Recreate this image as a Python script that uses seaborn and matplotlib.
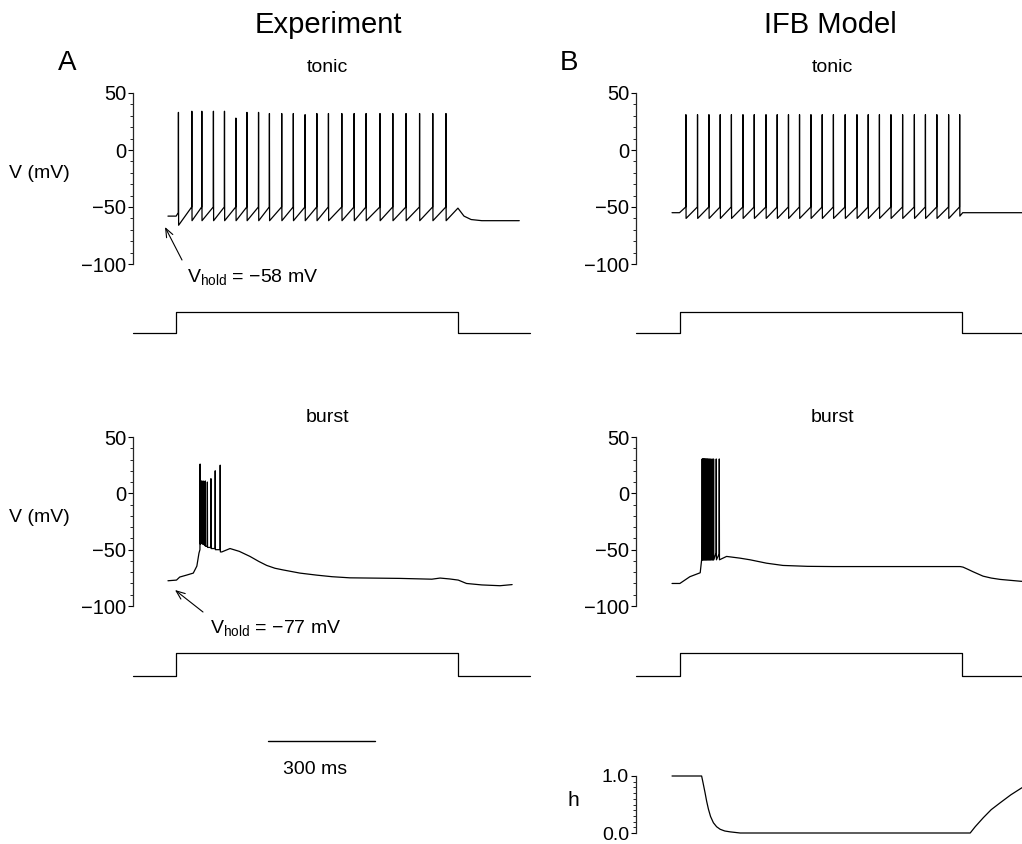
import numpy as np
import pandas as pd
import matplotlib
matplotlib.use("Agg")
import matplotlib.pyplot as plt
import seaborn as sns
from matplotlib.patches import FancyArrowPatch
from matplotlib.ticker import MultipleLocator, FixedLocator, FormatStrFormatter

sns.set_theme(style="ticks")
plt.rcParams['font.family'] = ['Liberation Sans', 'DejaVu Sans']
plt.rcParams['mathtext.fontset'] = 'custom'
plt.rcParams['mathtext.rm'] = 'Liberation Sans'
plt.rcParams['mathtext.it'] = 'Liberation Sans:italic'

W, H, DPI = 1022, 844, 100

# ---------------- data (time in ms, voltage in mV) ----------------
# current step (0 = holding, 1 = depolarising step)
pulse_on_exp, pulse_on_model, pulse_off = 23, 21, 814

# tonic, experiment
tonic_exp_pre_t = [0, 23]
tonic_exp_pre_v = [-58, -58]
tonic_exp_spike_t = [28.9, 66.5, 94.5, 127, 158, 190, 221, 253.5, 284, 318.5, 351, 384,
                     417, 449.5, 487, 521.5, 555, 594, 630, 667, 705, 742, 779]
tonic_exp_peak = [33, 34, 34, 34, 34, 28, 33, 33, 32, 32, 32, 31, 32, 32, 32, 32, 32,
                  32, 32, 32, 32, 32, 32]
tonic_exp_thr = [-55] + [-50] * 22
tonic_exp_trough = [-66] + [-62] * 22
tonic_exp_post_t = [813, 830, 850, 880, 985]
tonic_exp_post_v = [-51, -58, -61, -62, -62]

# tonic, IFB model
tonic_mod_pre_t = [0, 21]
tonic_mod_pre_v = [-55, -55]
tonic_mod_spike_t = [38.4, 71, 103, 134.6, 166, 198.4, 230, 263, 294.4, 326, 357, 389,
                     420.6, 452, 485, 518, 549.6, 581, 613.3, 646, 679, 710, 742, 775, 806]
tonic_mod_peak = [31] * 25
tonic_mod_thr = [-50] * 25
tonic_mod_trough = [-60] * 24 + [-58]
tonic_mod_post_t = [815, 990]
tonic_mod_post_v = [-55, -55]

# burst, experiment
burst_exp_pre_t = [0, 24, 33, 52, 71, 81, 87]
burst_exp_pre_v = [-77.6, -77, -74.3, -72.6, -70.8, -64.6, -53]
burst_exp_spike_t = [89.7, 91.7, 93.7, 95.7, 98, 101, 104, 110, 120, 132, 146]
burst_exp_peak = [26, 10, 11, 9, 11, 10, 11, 10, 13, 20, 25]
burst_exp_thr = [-50, -45, -44, -44, -45, -45, -46, -47, -48, -49, -50]
burst_exp_trough = [-45, -44, -44, -45, -45, -46, -47, -48, -49, -50, -52]
burst_exp_post_t = [151, 174, 200, 230, 255, 277, 300, 323, 370, 417, 460, 510, 650,
                    740, 763, 790, 814, 837, 880, 931, 965]
burst_exp_post_v = [-52, -49, -51.5, -56, -60.5, -64, -66.5, -68, -70.8, -72.6, -74,
                    -75, -75.5, -76.2, -75.2, -76, -77, -80, -81.3, -82, -81]

# burst, IFB model
burst_mod_pre_t = [0, 22, 50, 79, 83]
burst_mod_pre_v = [-80, -80, -74, -70.5, -59]
burst_mod_spike_t = [84, 85.6, 87.3, 89, 90.8, 92.7, 94.7, 96.8, 99, 101.5, 104.5, 108,
                     112, 116, 123.5, 132]
burst_mod_peak = [30.5] * 16
burst_mod_thr = [-59] * 14 + [-53, -54]
burst_mod_trough = [-59] * 16
burst_mod_post_t = [153, 190, 219, 265, 311, 380, 452, 808, 816, 830, 844, 872, 895, 920,
                    976, 1000]
burst_mod_post_v = [-56, -57.5, -59, -62, -64, -64.8, -65, -65, -65.5, -67.5, -69.6, -73.5,
                    -75.2, -76.4, -78, -78.5]

# inactivation variable h of the IFB model
h_t = [0, 83, 87, 92.5, 97, 102, 108, 116, 125, 135, 148, 163, 191, 836, 850, 873, 895,
       920, 950, 980, 1000]
h_v = [1.0, 1.0, 0.88, 0.71, 0.56, 0.42, 0.29, 0.18, 0.11, 0.065, 0.035, 0.02, 0.0, 0.0,
       0.11, 0.27, 0.41, 0.53, 0.67, 0.79, 0.85]

scalebar_ms = 300
scalebar_start = 280


def build_trace(pre_t, pre_v, spk_t, peak, thr, trough, post_t, post_v):
    t, v = list(pre_t), list(pre_v)
    for ts, pk, th, tr in zip(spk_t, peak, thr, trough):
        t += [ts, ts + 0.5, ts + 1.0]
        v += [th, pk, tr]
    t += list(post_t)
    v += list(post_v)
    return pd.DataFrame({"t": t, "v": v})


def pulse_frame(on, t_start, t_end):
    return pd.DataFrame({"t": [t_start, on, on, pulse_off, pulse_off, t_end],
                         "i": [0, 0, 1, 1, 0, 0]})


fig = plt.figure(figsize=(W / DPI, H / DPI), dpi=DPI)
PX_PER_MS = 107 / 300


def add_ax(left_px, t0, t1, top_px, bottom_px):
    width = (t1 - t0) * PX_PER_MS
    ax = fig.add_axes([left_px / W, 1 - bottom_px / H, width / W, (bottom_px - top_px) / H])
    ax.set_xlim(t0, t1)
    ax.patch.set_alpha(0)
    return ax


def style_v(ax, lo, hi, major, minor, fmt=None, labelsize=14.5):
    ax.set_ylim(lo, hi)
    for s in ("top", "right", "bottom"):
        ax.spines[s].set_visible(False)
    ax.spines["left"].set_linewidth(0.9)
    ax.set_xticks([])
    ax.yaxis.set_major_locator(FixedLocator(major))
    ax.yaxis.set_minor_locator(MultipleLocator(minor))
    if fmt:
        ax.yaxis.set_major_formatter(FormatStrFormatter(fmt))
    ax.tick_params(axis="y", which="major", direction="out", length=3.5, width=0.8,
                   labelsize=labelsize, pad=1.5, colors="black")
    ax.tick_params(axis="y", which="minor", direction="out", length=2, width=0.7)
    ax.set_xlabel("")
    ax.set_ylabel("")


def draw(ax, df, x, y):
    sns.lineplot(data=df, x=x, y=y, ax=ax, sort=False, estimator=None,
                 color="black", lw=0.9)
    for ln in ax.lines:
        ln.set_clip_on(False)


cols = {"A": (133, -98), "B": (636, -101)}
traces = {
    ("A", "tonic"): build_trace(tonic_exp_pre_t, tonic_exp_pre_v, tonic_exp_spike_t,
                                tonic_exp_peak, tonic_exp_thr, tonic_exp_trough,
                                tonic_exp_post_t, tonic_exp_post_v),
    ("B", "tonic"): build_trace(tonic_mod_pre_t, tonic_mod_pre_v, tonic_mod_spike_t,
                                tonic_mod_peak, tonic_mod_thr, tonic_mod_trough,
                                tonic_mod_post_t, tonic_mod_post_v),
    ("A", "burst"): build_trace(burst_exp_pre_t, burst_exp_pre_v, burst_exp_spike_t,
                                burst_exp_peak, burst_exp_thr, burst_exp_trough,
                                burst_exp_post_t, burst_exp_post_v),
    ("B", "burst"): build_trace(burst_mod_pre_t, burst_mod_pre_v, burst_mod_spike_t,
                                burst_mod_peak, burst_mod_thr, burst_mod_trough,
                                burst_mod_post_t, burst_mod_post_v),
}
v_rows = {"tonic": (93, 264), "burst": (437, 606)}
p_rows = {"tonic": (312, 333), "burst": (653, 676)}

for (col, mode), df in traces.items():
    left, t0 = cols[col]
    top, bot = v_rows[mode]
    ax = add_ax(left, t0, 1000, top, bot)
    draw(ax, df, "t", "v")
    style_v(ax, -100, 50, [-100, -50, 0, 50], 10)
    # current step
    ptop, pbot = p_rows[mode]
    pax = add_ax(left, t0, 1000, ptop, pbot)
    on = pulse_on_exp if col == "A" else pulse_on_model
    draw(pax, pulse_frame(on, t0, 1015), "t", "i")
    pax.set_ylim(0, 1)
    pax.axis("off")

# h variable
hax = add_ax(636, -101, 1000, 776, 833)
draw(hax, pd.DataFrame({"t": h_t, "h": h_v}), "t", "h")
style_v(hax, 0, 1, [0, 1], 0.1, "%.1f", labelsize=14)

# time scale bar
sax = add_ax(133, -98, 1000, 736, 746)
sax.plot([scalebar_start, scalebar_start + scalebar_ms], [0.5, 0.5], color="black", lw=1.0)
sax.set_ylim(0, 1)
sax.axis("off")


def ftext(x, y, s, size, **kw):
    fig.text(x / W, 1 - y / H, s, fontsize=size, ha=kw.pop("ha", "center"),
             va=kw.pop("va", "center"), color="black", **kw)


ftext(328, 25, "Experiment", 21)
ftext(830, 25, "IFB Model", 21)
ftext(67, 63, "A", 20)
ftext(569, 63, "B", 20)
ftext(327, 67, "tonic", 14)
ftext(832, 67, "tonic", 14)
ftext(327, 417, "burst", 14)
ftext(832, 417, "burst", 14)
ftext(39, 173, "V (mV)", 14)
ftext(39, 517, "V (mV)", 14)
ftext(573, 800, "h", 15)
ftext(315, 770, f"{scalebar_ms} ms", 14)

ftext(187, 282, r"V$_{\rm hold}$ = −58 mV", 14, ha="left", va="baseline")
ftext(210, 633, r"V$_{\rm hold}$ = −77 mV", 14, ha="left", va="baseline")

arrow = dict(arrowstyle="->,head_length=0.45,head_width=0.18", color="black", lw=0.8,
             shrinkA=0, shrinkB=0, mutation_scale=14, transform=fig.transFigure)
fig.add_artist(FancyArrowPatch((182 / W, 1 - 260 / H), (165 / W, 1 - 227 / H), **arrow))
fig.add_artist(FancyArrowPatch((203 / W, 1 - 612 / H), (175 / W, 1 - 590 / H), **arrow))

fig.savefig("out.png", dpi=DPI, facecolor="white")
